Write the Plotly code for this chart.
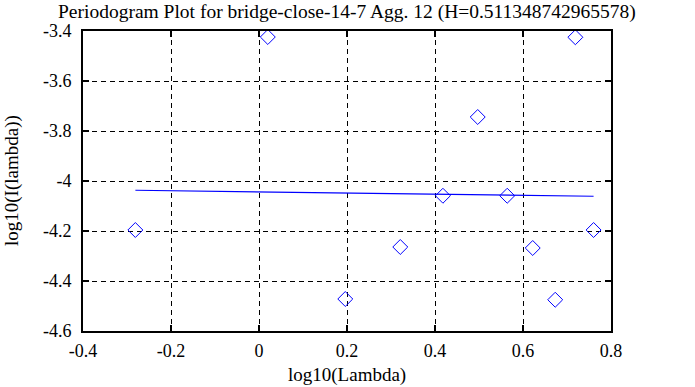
import plotly.graph_objects as go

log_lambda = [-0.2810, 0.0200, 0.1961, 0.3211, 0.4180, 0.4971, 0.5641, 0.6221, 0.6732, 0.7190, 0.7604]
log_I = [-4.196, -3.424, -4.472, -4.264, -4.059, -3.744, -4.059, -4.268, -4.475, -3.425, -4.196]
fit_x = [-0.2810, 0.7604]
fit_y = [-4.037, -4.061]

title_text = "Periodogram Plot for bridge-close-14-7 Agg. 12 (H=0.511348742965578)"
x_title = "log10(Lambda)"
y_title = "log10(I(lambda))"
x_ticks = [-0.4, -0.2, 0, 0.2, 0.4, 0.6, 0.8]
x_ticklabels = ["-0.4", "-0.2", "0", "0.2", "0.4", "0.6", "0.8"]
y_ticks = [-4.6, -4.4, -4.2, -4.0, -3.8, -3.6, -3.4]
y_ticklabels = ["-4.6", "-4.4", "-4.2", "-4", "-3.8", "-3.6", "-3.4"]

tick_font = dict(family="Liberation Serif", size=18, color="black")
label_font = dict(family="Liberation Serif", size=19, color="black")
title_font = dict(family="Liberation Serif", size=19.5, color="black")

fig = go.Figure()
fig.add_trace(go.Scatter(x=fit_x, y=fit_y, mode="lines",
                         line=dict(color="#0000ff", width=1.2), showlegend=False))
fig.add_trace(go.Scatter(x=log_lambda, y=log_I, mode="markers",
                         marker=dict(symbol="diamond-open", size=11.5, color="#0000ff",
                                     line=dict(width=1, color="#0000ff")),
                         showlegend=False))

axis_common = dict(showline=True, linecolor="black", linewidth=2, mirror="allticks",
                   ticks="inside", ticklen=6, tickwidth=1.5, tickcolor="black",
                   showgrid=True, gridcolor="black", gridwidth=1, griddash="5px,4px",
                   zeroline=False, tickfont=tick_font, automargin=False)

fig.update_xaxes(range=[-0.4, 0.8], tickvals=x_ticks, ticktext=x_ticklabels,
                 ticklabelstandoff=2, **axis_common)
fig.update_yaxes(range=[-4.6, -3.4], tickvals=y_ticks, ticktext=y_ticklabels,
                 ticklabelstandoff=6, **axis_common)

fig.update_layout(
    width=695, height=387,
    margin=dict(l=83, r=84, t=31, b=56),
    paper_bgcolor="white", plot_bgcolor="white",
    font=tick_font,
    annotations=[
        dict(text=title_text, xref="paper", yref="paper", x=0.5, y=(387 - 56 - 11.5) / 300,
             xanchor="center", yanchor="middle", showarrow=False, font=title_font),
        dict(text=x_title, xref="paper", yref="paper", x=0.5, y=-(375 - 331) / 300,
             xanchor="center", yanchor="middle", showarrow=False, font=label_font),
        dict(text=y_title, xref="paper", yref="paper", x=-(83 - 12) / 528, y=0.5,
             xanchor="center", yanchor="middle", showarrow=False, textangle=-90, font=label_font),
    ],
)

fig.write_html("out.html", config={"displayModeBar": False},
               post_script="document.body.style.margin='0';")
